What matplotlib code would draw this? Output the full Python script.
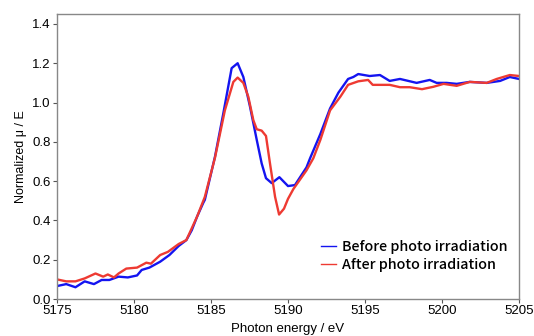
import matplotlib
matplotlib.use("Agg")
import matplotlib.pyplot as plt

plt.rcParams['font.family'] = ['Liberation Sans', 'DejaVu Sans']

before_x = [5175.0, 5175.6, 5176.2, 5176.8, 5177.4, 5177.9, 5178.4, 5179.0, 5179.6, 5180.2,
            5180.5, 5181.0, 5181.7, 5182.3, 5182.9, 5183.4, 5183.75, 5184.1, 5184.5, 5184.6,
            5185.26, 5185.8, 5186.34, 5186.73, 5187.1, 5187.53, 5187.97, 5188.29, 5188.57,
            5188.94, 5189.44, 5190.0, 5190.45, 5191.2, 5191.43, 5192.1, 5192.73, 5193.27,
            5193.9, 5194.24, 5194.56, 5195.3, 5195.97, 5196.6, 5197.27, 5198.35, 5199.2,
            5199.65, 5200.3, 5200.95, 5201.8, 5202.9, 5203.77, 5204.4, 5205.0]
before_y = [0.066, 0.076, 0.060, 0.090, 0.076, 0.097, 0.097, 0.114, 0.110, 0.120,
            0.148, 0.160, 0.190, 0.224, 0.270, 0.300, 0.350, 0.420, 0.490, 0.505,
            0.725, 0.945, 1.175, 1.200, 1.130, 0.980, 0.810, 0.690, 0.615,
            0.590, 0.620, 0.575, 0.580, 0.670, 0.716, 0.840, 0.970, 1.050,
            1.120, 1.130, 1.145, 1.135, 1.140, 1.110, 1.120, 1.100, 1.115,
            1.100, 1.100, 1.095, 1.105, 1.100, 1.110, 1.130, 1.120]

after_x = [5175.0, 5175.6, 5176.2, 5176.8, 5177.5, 5178.0, 5178.3, 5178.7, 5179.0, 5179.5,
           5180.2, 5180.8, 5181.1, 5181.7, 5182.2, 5182.9, 5183.4, 5183.75, 5184.1, 5184.6,
           5185.26, 5185.9, 5186.45, 5186.73, 5187.1, 5187.42, 5187.75, 5187.97, 5188.29,
           5188.57, 5188.83, 5189.16, 5189.42, 5189.74, 5190.0, 5190.35, 5191.2, 5191.64,
           5192.1, 5192.73, 5193.4, 5193.9, 5194.56, 5195.2, 5195.5, 5196.6, 5197.27,
           5197.9, 5198.7, 5199.43, 5200.1, 5200.95, 5201.8, 5202.9, 5203.55, 5204.4, 5205.0]
after_y = [0.100, 0.090, 0.090, 0.105, 0.130, 0.114, 0.125, 0.110, 0.130, 0.155,
           0.160, 0.185, 0.180, 0.224, 0.240, 0.280, 0.300, 0.360, 0.420, 0.520,
           0.720, 0.960, 1.105, 1.127, 1.100, 1.030, 0.910, 0.864, 0.857,
           0.830, 0.690, 0.520, 0.430, 0.460, 0.510, 0.560, 0.655, 0.716,
           0.810, 0.960, 1.030, 1.090, 1.108, 1.115, 1.090, 1.090, 1.078,
           1.078, 1.068, 1.080, 1.095, 1.085, 1.105, 1.100, 1.120, 1.140, 1.135]

x_ticks = [5175, 5180, 5185, 5190, 5195, 5200, 5205]
y_ticks = [0.0, 0.2, 0.4, 0.6, 0.8, 1.0, 1.2, 1.4]

fig = plt.figure(figsize=(5.34, 3.36), dpi=100)
ax = fig.add_axes([0.1067, 0.110, 0.8653, 0.848])

ax.plot(before_x, before_y, color='#1414f0', lw=1.7, label='Before photo irradiation')
ax.plot(after_x, after_y, color='#ee3a32', lw=1.7, label='After photo irradiation')

ax.set_xlim(5175, 5205)
ax.set_ylim(0, 1.45)
ax.set_xticks(x_ticks)
ax.set_yticks(y_ticks)
ax.set_yticklabels([f"{v:.1f}" for v in y_ticks])
ax.tick_params(labelsize=9.5, direction='out', length=3, width=0.8, color='#555555', pad=1.5)
for s in ax.spines.values():
    s.set_color('#888888')
    s.set_linewidth(1.0)

ax.set_xlabel('Photon energy / eV', fontsize=9.5, labelpad=4)
ax.set_ylabel('Normalized μ / E', fontsize=9, labelpad=4)

leg = ax.legend(loc='lower right', frameon=False,
                prop={'family': ['Noto Sans CJK JP', 'DejaVu Sans'], 'size': 10.3, 'weight': 'medium'},
                handlelength=1.1, handletextpad=0.4, borderaxespad=0.3, labelspacing=0.3,
                bbox_to_anchor=(0.997, 0.06))
for ln in leg.get_lines():
    ln.set_linewidth(1.0)

fig.savefig('out.png', dpi=100)
